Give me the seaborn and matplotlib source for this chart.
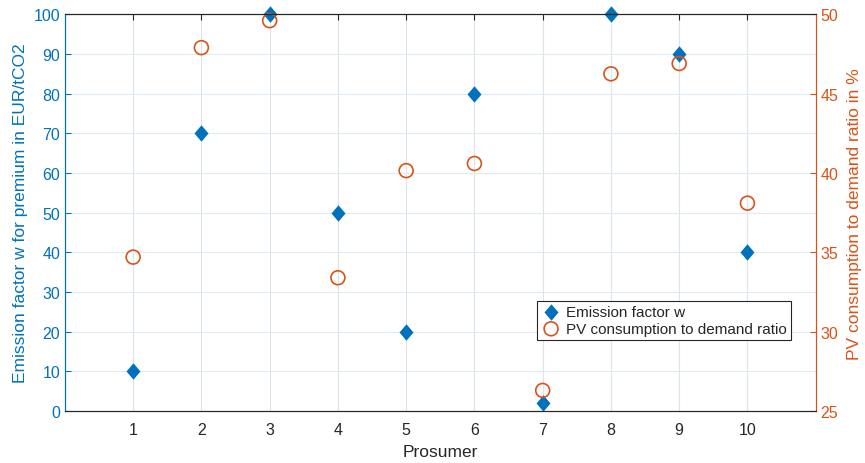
import numpy as np
import pandas as pd
import seaborn as sns
import matplotlib.pyplot as plt

# data
prosumer = [1, 2, 3, 4, 5, 6, 7, 8, 9, 10]
emission_factor = [10, 70, 100, 50, 20, 80, 2, 100, 90, 40]
pv_ratio = [34.7, 47.9, 49.6, 33.4, 40.15, 40.6, 26.3, 46.25, 46.9, 38.1]

blue = '#0072BD'
orange = '#D95319'
dark = '#262626'

sns.set_style('white')
plt.rcParams['font.family'] = ['Liberation Sans', 'DejaVu Sans']

df = pd.DataFrame({'Prosumer': prosumer, 'w': emission_factor, 'pv': pv_ratio})

fig = plt.figure(figsize=(8.65, 4.64), dpi=100)
ax = fig.add_axes([0.075, 0.112, 0.868, 0.855])
ax2 = ax.twinx()

# diamond a bit narrower than tall, like matlab
diamond = [(0, 1), (0.85, 0), (0, -1), (-0.85, 0), (0, 1)]

sns.scatterplot(data=df, x='Prosumer', y='w', ax=ax, marker=diamond, s=140,
                color=blue, edgecolor=blue, linewidth=0, clip_on=False,
                label='Emission factor w', legend=False)
sns.scatterplot(data=df, x='Prosumer', y='pv', ax=ax2, marker='o', s=100,
                facecolor='none', edgecolor=orange, linewidth=1.2, clip_on=False,
                label='PV consumption to demand ratio', legend=False)

ax.set_xlim(0, 11)
ax.set_xticks(prosumer)
ax.set_ylim(0, 100)
ax.set_yticks(np.arange(0, 101, 10))
ax2.set_ylim(25, 50)
ax2.set_yticks([25, 30, 35, 40, 45, 50])

# grid
ax.set_axisbelow(True)
ax.xaxis.grid(True, color='#dfe2e6', linewidth=0.8)
ax.yaxis.grid(True, color='#dcebf6', linewidth=0.8)

ax.set_xlabel('Prosumer', fontsize=12.5, color=dark, labelpad=5)
ax.set_ylabel('Emission factor w for premium in EUR/tCO2', fontsize=12.5, color=blue, labelpad=4)
ax2.set_ylabel('PV consumption to demand ratio in %', fontsize=12.5, color=orange, labelpad=6)

ax.tick_params(axis='x', direction='in', length=4, top=True, colors=dark,
               labelsize=11.5, width=0.8, pad=8)
ax.tick_params(axis='y', direction='in', length=4, colors=blue, labelsize=11.5, width=0.8)
ax2.tick_params(axis='y', direction='in', length=4, colors=orange, labelsize=11.5, width=0.8)
ax2.tick_params(axis='x', top=False, bottom=False)

for a in (ax, ax2):
    a.spines['top'].set_color(dark)
    a.spines['bottom'].set_color(dark)
    a.spines['left'].set_color(blue)
    a.spines['right'].set_color(orange)
    for sp in a.spines.values():
        sp.set_linewidth(0.8)

h1, l1 = ax.get_legend_handles_labels()
h2, l2 = ax2.get_legend_handles_labels()
leg = ax2.legend(h1 + h2, l1 + l2, loc='lower right', bbox_to_anchor=(0.967, 0.18),
                 fontsize=11, frameon=True, fancybox=False, framealpha=1,
                 edgecolor=dark, handletextpad=0.3, borderpad=0.25,
                 labelspacing=0.2, handlelength=1.4, borderaxespad=0)
leg.get_frame().set_linewidth(0.8)

fig.savefig('out.png', dpi=100)
